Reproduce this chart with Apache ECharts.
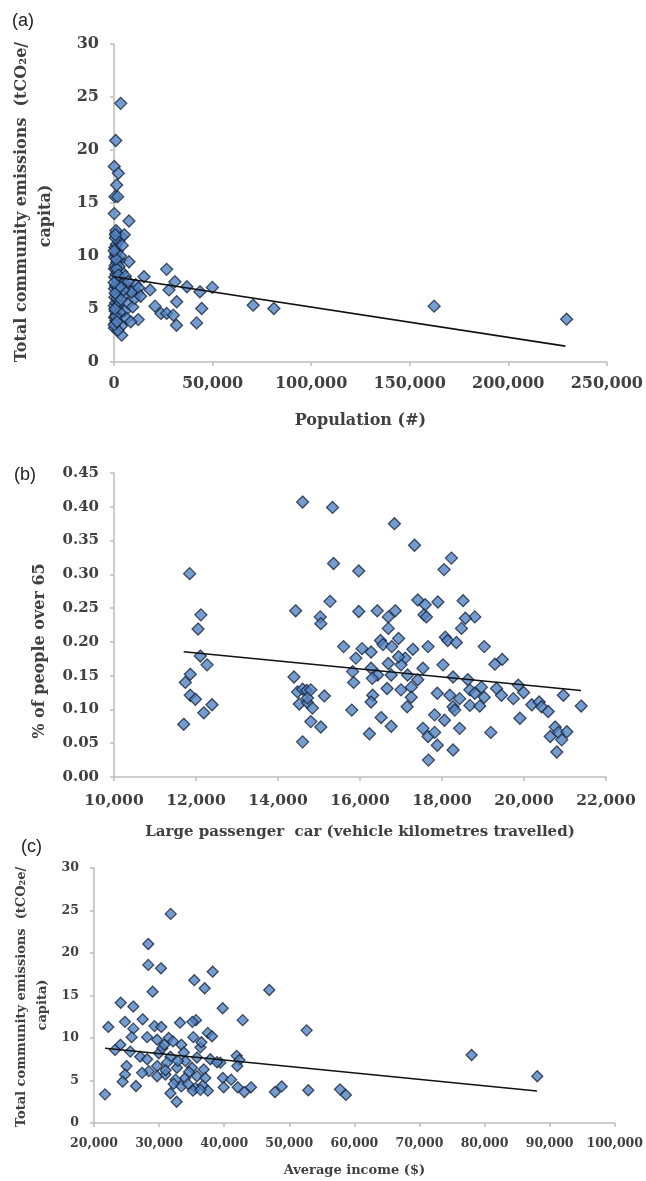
<!DOCTYPE html>
<html lang="en">
<head>
    <meta charset="UTF-8">
    <script src="https://cdn.jsdelivr.net/npm/echarts@6/dist/echarts.min.js"></script>
    <title>Emissions scatter</title>
    <style type="text/css">
        html, body { margin: 0; padding: 0; background: #fff; }
        #main { width: 646px; height: 1181px; }
    </style>
</head>
<body>
<div id="main"></div>
<script type="text/javascript">
    // (a) population vs total community emissions
    const popPoints = [
        [3400, 24.4], [860, 20.9], [150, 18.45], [2200, 17.8], [1350, 16.7], [500, 15.6], [1850, 15.6],
        [150, 14.0], [7600, 13.3], [1000, 12.15], [3900, 11.8], [7600, 9.46], [15200, 8.04], [26700, 8.74],
        [30900, 7.57], [37000, 7.1], [43600, 6.62], [49900, 7.04], [18300, 6.8], [27900, 6.8], [31800, 5.68],
        [20800, 5.27], [23800, 4.58], [26700, 4.58], [30100, 4.42], [44500, 5.05], [31700, 3.47], [41900, 3.69],
        [70600, 5.36], [81100, 5.05], [12300, 4.0], [3900, 2.53], [9600, 6.8], [12000, 6.5],
        [162400, 5.27], [229600, 4.04],
        [200, 3.2], [500, 3.6], [900, 3.9], [300, 4.2], [1200, 4.5], [600, 4.8], [1800, 5.0], [150, 5.3],
        [800, 5.6], [2500, 5.8], [400, 6.1], [1100, 6.4], [3000, 6.6], [250, 6.9], [700, 7.2], [1500, 7.4],
        [2200, 7.7], [350, 8.0], [1000, 8.3], [4000, 8.5], [200, 8.8], [600, 9.1], [1400, 9.4], [2800, 9.6],
        [300, 9.9], [900, 10.2], [1700, 10.5], [450, 10.8], [1200, 11.1], [2400, 11.4], [650, 11.7], [1000, 12.4],
        [3500, 7.9], [5000, 7.5], [6000, 6.9], [4500, 6.2], [7000, 5.5], [5500, 4.8], [6500, 4.1], [8500, 3.8],
        [3800, 3.4], [2000, 3.0], [9500, 5.2], [10500, 6.0], [11000, 7.3], [9000, 6.6], [12500, 7.0], [13500, 6.2],
        [2600, 9.0], [3300, 10.0], [4200, 11.0], [5200, 12.0], [1300, 8.8], [1600, 6.0], [2100, 5.4], [2900, 4.7],
        [3600, 5.9], [4800, 6.8], [800, 4.3], [1900, 7.0], [450, 5.0], [600, 6.5], [1100, 9.7], [2300, 8.2],
        [3100, 7.1], [5800, 8.1], [7200, 7.6], [100, 3.5], [100, 7.5], [100, 10.5], [700, 12.0], [1500, 3.8]
    ];
    const popTrend = [[0, 8.05], [229000, 1.5]];

    // (b) large passenger car VKT vs share of people over 65
    const carPoints = [
        [11845, 0.301], [12120, 0.240], [12050, 0.219], [12105, 0.179], [12270, 0.166], [11860, 0.152],
        [11740, 0.140], [11860, 0.121], [11985, 0.115], [12190, 0.095], [12390, 0.107], [11700, 0.078],
        [14600, 0.407], [14430, 0.246], [15030, 0.237], [15045, 0.227], [14390, 0.148], [14475, 0.126],
        [14600, 0.130], [14700, 0.128], [15130, 0.120], [14520, 0.108], [14720, 0.110], [14840, 0.102],
        [14800, 0.082], [15045, 0.074], [14600, 0.052], [14720, 0.117], [14800, 0.129],
        [15330, 0.399], [16840, 0.375], [17330, 0.343], [15355, 0.316], [15970, 0.305], [18230, 0.324],
        [18050, 0.307], [15270, 0.260], [15970, 0.245], [16420, 0.246], [16860, 0.246], [16690, 0.237],
        [17410, 0.262], [17590, 0.255], [17560, 0.240], [17620, 0.237], [17900, 0.259], [18515, 0.261],
        [18800, 0.237], [18570, 0.235], [18475, 0.220], [16690, 0.220], [15600, 0.193], [16050, 0.190],
        [15900, 0.176], [16500, 0.202], [16560, 0.196], [16775, 0.193], [16940, 0.205], [17100, 0.176],
        [17290, 0.189], [17660, 0.193], [18080, 0.207], [18140, 0.202], [18350, 0.199], [19030, 0.193],
        [19470, 0.174], [19290, 0.167], [18025, 0.166], [17535, 0.161], [15820, 0.156], [16270, 0.161],
        [17000, 0.166], [16430, 0.151], [16760, 0.151], [17160, 0.151], [17410, 0.144], [15845, 0.140],
        [16300, 0.146], [16660, 0.131], [18270, 0.148], [18630, 0.144], [18680, 0.129], [18960, 0.133],
        [19330, 0.131], [19860, 0.136], [19990, 0.125], [19740, 0.116], [19450, 0.121], [19030, 0.118],
        [17885, 0.124], [18190, 0.121], [18430, 0.116], [18800, 0.124], [17000, 0.129], [17250, 0.133],
        [17250, 0.118], [16310, 0.121], [16270, 0.111], [17150, 0.104], [15800, 0.099], [18270, 0.104],
        [18310, 0.099], [18680, 0.106], [18920, 0.105], [20190, 0.107], [20370, 0.111], [20430, 0.104],
        [20590, 0.097], [20960, 0.121], [21395, 0.105], [19900, 0.087], [16515, 0.088], [16760, 0.075],
        [17820, 0.092], [18060, 0.084], [18430, 0.072], [17535, 0.072], [17660, 0.060], [17820, 0.066],
        [17885, 0.047], [17670, 0.025], [18270, 0.040], [19190, 0.066], [16230, 0.064], [20760, 0.074],
        [20640, 0.060], [20840, 0.066], [21045, 0.067], [20920, 0.055], [20800, 0.037], [16270, 0.185],
        [16940, 0.178], [16690, 0.168]
    ];
    const carTrend = [[11700, 0.1855], [21390, 0.128]];

    // (c) average income vs total community emissions
    const incomePoints = [
        [31780, 24.6], [28340, 21.06], [28340, 18.6], [30290, 18.2], [38230, 17.8], [35410, 16.8],
        [37000, 15.85], [29010, 15.45], [46930, 15.65], [39770, 13.5], [24100, 14.15], [26040, 13.7],
        [27480, 12.2], [24760, 11.9], [22200, 11.3], [42840, 12.1], [35670, 12.1], [35110, 11.9],
        [33210, 11.8], [29300, 11.4], [30340, 11.3], [52670, 10.9], [37490, 10.6], [38130, 10.2],
        [26040, 11.1], [25780, 10.1], [35260, 10.1], [31480, 10.0], [28170, 10.1], [29700, 9.8],
        [33420, 9.2], [32140, 9.6], [36350, 8.9], [24050, 9.2], [23230, 8.6], [25570, 8.4], [27100, 7.8],
        [28170, 7.5], [29960, 8.2], [31740, 7.8], [34030, 7.3], [35820, 7.7], [37870, 7.5], [39410, 7.1],
        [41920, 7.9], [42330, 7.4], [42020, 6.7], [38900, 7.15], [29700, 6.7], [31220, 7.1], [32750, 6.5],
        [35050, 6.5], [36860, 6.3], [28420, 6.1], [27390, 5.9], [29700, 5.5], [30980, 5.7], [32520, 5.1],
        [34030, 5.3], [35820, 5.5], [37100, 5.3], [25000, 6.7], [24760, 5.7], [24400, 4.86], [26450, 4.35],
        [21690, 3.37], [32240, 4.6], [33420, 4.3], [34430, 4.6], [35600, 4.1], [36700, 4.4], [37490, 3.8],
        [31740, 3.5], [32700, 2.5], [39800, 5.3], [41070, 5.1], [39920, 4.2], [42080, 4.2], [43100, 3.65],
        [44120, 4.2], [47800, 3.65], [48840, 4.3], [52920, 3.85], [35200, 3.8], [36350, 3.9],
        [78010, 8.0], [88100, 5.5], [57790, 3.96], [58700, 3.3],
        [30500, 8.8], [31000, 6.2], [33800, 8.3], [34600, 6.0], [32900, 7.3], [30800, 9.2], [36500, 9.5]
    ];
    const incomeTrend = [[21700, 8.8], [88050, 3.76]];

    const markerStyle = {color: '#5283c2', borderColor: '#16243c', borderWidth: 1.3};
    const axisGray = '#bdbdbd';
    const textFont = '"DejaVu Serif", serif';
    const emissionsLine1 = 'Total community emissions  (tCO\u2082e/';
    const emissionsLine2 = 'capita)';

    function commas(v) {
        return String(v).replace(/\B(?=(\d{3})+(?!\d))/g, ',');
    }

    function makeX(idx, min, max, interval, name, size, margin, gap, nameSize) {
        return {
            type: 'value', gridIndex: idx, min: min, max: max, interval: interval,
            name: name, nameLocation: 'middle', nameGap: gap,
            nameTextStyle: {fontFamily: textFont, fontWeight: 'bold', fontSize: nameSize, color: '#404040'},
            splitLine: {show: false},
            axisLine: {lineStyle: {color: axisGray, width: 1.5}},
            axisTick: {show: true, inside: false, length: 4, lineStyle: {color: axisGray, width: 1.5}},
            axisLabel: {fontFamily: textFont, fontWeight: 'bold', fontSize: size, color: '#404040',
                margin: margin, formatter: commas}
        };
    }

    function makeY(idx, min, max, interval, size, fmt) {
        return {
            type: 'value', gridIndex: idx, min: min, max: max, interval: interval,
            splitLine: {show: false},
            axisLine: {show: true, lineStyle: {color: axisGray, width: 1.5}},
            axisTick: {show: true, inside: false, length: 4, lineStyle: {color: axisGray, width: 1.5}},
            axisLabel: {fontFamily: textFont, fontWeight: 'bold', fontSize: size, color: '#404040',
                margin: 15, formatter: fmt}
        };
    }

    // rotated y axis titles, placed where the original has them (not centred on the axis)
    function yTitle(text, x, y, size) {
        return {
            type: 'text', x: x, y: y, rotation: Math.PI / 2, silent: true,
            style: {text: text, fontFamily: textFont, fontWeight: 'bold', fontSize: size, fill: '#404040',
                align: 'center', verticalAlign: 'middle', textAlign: 'center', textVerticalAlign: 'middle'}
        };
    }

    const myChart = echarts.init(document.getElementById('main'), null, {renderer: 'canvas'});

    const option = {
        animation: false,
        backgroundColor: '#fff',
        title: [
            {text: '(a)', left: 7, top: 7, textStyle: {fontFamily: 'Liberation Sans', fontWeight: 'normal', fontSize: 18, color: '#222'}},
            {text: '(b)', left: 9, top: 461, textStyle: {fontFamily: 'Liberation Sans', fontWeight: 'normal', fontSize: 18, color: '#222'}},
            {text: '(c)', left: 16, top: 833, textStyle: {fontFamily: 'Liberation Sans', fontWeight: 'normal', fontSize: 18, color: '#222'}}
        ],
        graphic: [
            yTitle(emissionsLine1, 22, 202, 16),
            yTitle(emissionsLine2, 46, 216, 16),
            yTitle('% of people over 65', 40, 651, 16),
            yTitle(emissionsLine1, 22, 997, 13),
            yTitle(emissionsLine2, 43, 1005, 13)
        ],
        grid: [
            {left: 114, top: 44, width: 493, height: 318},
            {left: 114, top: 473, width: 492, height: 304},
            {left: 94, top: 868, width: 521, height: 255}
        ],
        xAxis: [
            makeX(0, 0, 250000, 50000, 'Population (#)', 16, 14, 51, 16),
            makeX(1, 10000, 22000, 2000, 'Large passenger  car (vehicle kilometres travelled)', 15.5, 16, 48, 15),
            makeX(2, 20000, 100000, 10000, 'Average income ($)', 12.5, 14, 41, 13)
        ],
        yAxis: [
            makeY(0, 0, 30, 5, 16, null),
            makeY(1, 0, 0.45, 0.05, 15, function (v) { return v.toFixed(2); }),
            makeY(2, 0, 30, 5, 12.5, null)
        ],
        series: [
            {type: 'scatter', xAxisIndex: 0, yAxisIndex: 0, symbol: 'diamond', symbolSize: 12,
                itemStyle: markerStyle, data: popPoints},
            {type: 'line', xAxisIndex: 0, yAxisIndex: 0, symbol: 'none', silent: true, z: 3,
                lineStyle: {color: '#111', width: 1.6}, data: popTrend},
            {type: 'scatter', xAxisIndex: 1, yAxisIndex: 1, symbol: 'diamond', symbolSize: 12,
                itemStyle: markerStyle, data: carPoints},
            {type: 'line', xAxisIndex: 1, yAxisIndex: 1, symbol: 'none', silent: true, z: 3,
                lineStyle: {color: '#111', width: 1.6}, data: carTrend},
            {type: 'scatter', xAxisIndex: 2, yAxisIndex: 2, symbol: 'diamond', symbolSize: 11,
                itemStyle: markerStyle, data: incomePoints},
            {type: 'line', xAxisIndex: 2, yAxisIndex: 2, symbol: 'none', silent: true, z: 3,
                lineStyle: {color: '#111', width: 1.6}, data: incomeTrend}
        ]
    };

    myChart.setOption(option);
</script>
</body>
</html>
